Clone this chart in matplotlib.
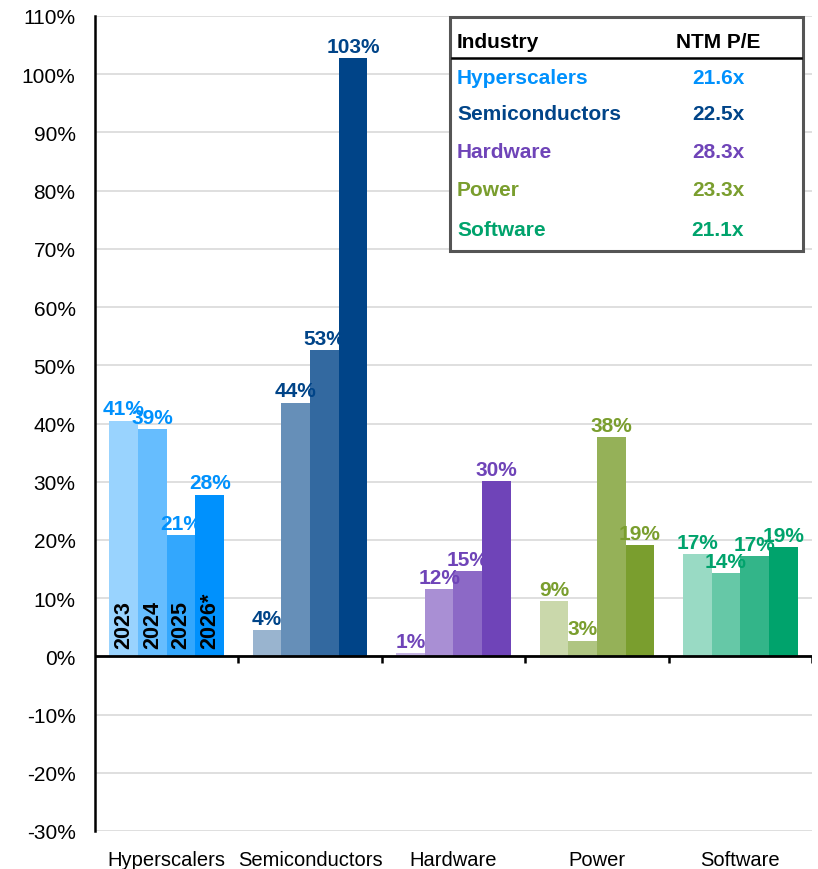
import matplotlib
matplotlib.use("Agg")
import matplotlib.pyplot as plt
import numpy as np

categories = ["Hyperscalers", "Semiconductors", "Hardware", "Power", "Software"]
years = ["2023", "2024", "2025", "2026*"]
values = {
    "Hyperscalers":   [40.5, 39.0, 20.8, 27.8],
    "Semiconductors": [4.5, 43.6, 52.6, 102.7],
    "Hardware":       [0.5, 11.5, 14.6, 30.1],
    "Power":          [9.5, 2.7, 37.6, 19.1],
    "Software":       [17.5, 14.3, 17.2, 18.7],
}
labels = {
    "Hyperscalers":   ["41%", "39%", "21%", "28%"],
    "Semiconductors": ["4%", "44%", "53%", "103%"],
    "Hardware":       ["1%", "12%", "15%", "30%"],
    "Power":          ["9%", "3%", "38%", "19%"],
    "Software":       ["17%", "14%", "17%", "19%"],
}
pe_values = ["21.6x", "22.5x", "28.3x", "23.3x", "21.1x"]

base_colors = {
    "Hyperscalers": "#0091fd",
    "Semiconductors": "#004488",
    "Hardware": "#6f44b8",
    "Power": "#7a9e2e",
    "Software": "#00a36c",
}
shade_alpha = [0.4, 0.6, 0.8, 1.0]

plt.rcParams["font.family"] = ["Liberation Sans", "DejaVu Sans"]

def blend(hexc, a):
    c = np.array(matplotlib.colors.to_rgb(hexc))
    return tuple(c * a + (1 - a))

W, H = 818, 870
fig = plt.figure(figsize=(W / 100, H / 100), dpi=100)
ax = fig.add_axes([95 / W, (H - 832) / H, (812 - 95) / W, (832 - 17) / H])

bw = 0.2
for i, cat in enumerate(categories):
    for j in range(4):
        x = i - 0.4 + bw * (j + 0.5)
        v = values[cat][j]
        col = blend(base_colors[cat], shade_alpha[j])
        ax.bar(x, v, width=bw, color=col, edgecolor="none", zorder=2)
        ax.text(x, v + 0.4, labels[cat][j], ha="center", va="bottom",
                fontsize=15, fontweight="bold", color=base_colors[cat], zorder=4)
        if cat == "Hyperscalers":
            ax.text(x, 1.4, years[j], rotation=90, ha="center", va="bottom",
                    fontsize=15.5, fontweight="bold", color="black", zorder=4)

ax.set_xlim(-0.5, 4.5)
ax.set_ylim(-30, 110)
ax.set_yticks(np.arange(-30, 111, 10))
ax.set_yticklabels([f"{t}%" for t in range(-30, 111, 10)], fontsize=15)
ax.tick_params(axis="y", length=0, pad=14)
ax.yaxis.grid(True, color="#d9d9d9", lw=1.2, zorder=0)
ax.set_axisbelow(True)
ax.set_xticks(range(len(categories)))
ax.set_xticklabels(categories, fontsize=14.5)
ax.tick_params(axis="x", length=0, pad=14)
for s in ["top", "right", "bottom"]:
    ax.spines[s].set_visible(False)
ax.spines["left"].set_linewidth(1.8)
ax.axhline(0, color="black", lw=2, zorder=3)
ax.vlines(np.arange(0.5, 4.6, 1.0), -1.1, 0, color="black", lw=1.8, zorder=3)

# Table box
def fx(px):
    return px / W
def fy(py):
    return 1 - py / H

rect = matplotlib.patches.Rectangle((fx(450), fy(252)), fx(803) - fx(450), fy(18) - fy(252),
                                    transform=fig.transFigure, facecolor="white",
                                    edgecolor="#555555", lw=2.2, zorder=10)
fig.patches.append(rect)
fig.lines.append(matplotlib.lines.Line2D([fx(452), fx(801)], [fy(59), fy(59)],
                                         transform=fig.transFigure, color="black", lw=1.8, zorder=11))
fig.text(fx(457), fy(42), "Industry", ha="left", va="center", fontsize=15,
         fontweight="bold", color="black", zorder=12)
fig.text(fx(718), fy(42), "NTM P/E", ha="center", va="center", fontsize=15,
         fontweight="bold", color="black", zorder=12)
row_y = [78, 115, 152, 191, 230]
for cat, pe, ry in zip(categories, pe_values, row_y):
    fig.text(fx(457), fy(ry), cat, ha="left", va="center", fontsize=15,
             fontweight="bold", color=base_colors[cat], zorder=12)
    fig.text(fx(718), fy(ry), pe, ha="center", va="center", fontsize=15,
             fontweight="bold", color=base_colors[cat], zorder=12)

fig.savefig("out.png", dpi=100)
